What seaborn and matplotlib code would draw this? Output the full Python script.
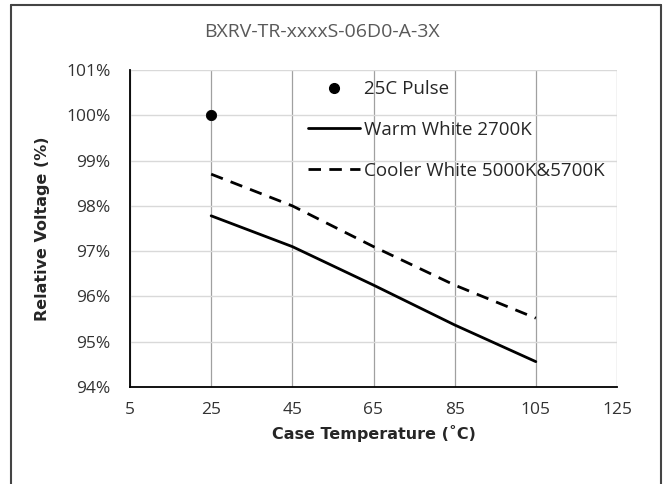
import numpy as np
import pandas as pd
import matplotlib.pyplot as plt
from matplotlib.lines import Line2D
from matplotlib.ticker import PercentFormatter
import seaborn as sns

# --- data ---
temps = [25, 45, 65, 85, 105]
warm_white = [97.78, 97.10, 96.25, 95.37, 94.56]
cool_white = [98.70, 98.00, 97.10, 96.25, 95.52]
pulse_temp = [25]
pulse_volt = [100.0]

x_ticks = [5, 25, 45, 65, 85, 105, 125]
y_ticks = [94, 95, 96, 97, 98, 99, 100, 101]

sns.set_style("white")
plt.rcParams['font.family'] = ['Open Sans', 'DejaVu Sans']

fig = plt.figure(figsize=(6.67, 4.84), dpi=100)
ax = fig.add_axes([130 / 667, 1 - 387 / 484, 487 / 667, 317 / 484])

dash = (0, (4.5, 3))
df = pd.DataFrame({"T": temps, "warm": warm_white, "cool": cool_white})
sns.lineplot(data=df, x="T", y="warm", ax=ax, color="black", lw=2)
sns.lineplot(data=df, x="T", y="cool", ax=ax, color="black", lw=2, linestyle=dash)
sns.scatterplot(x=pulse_temp, y=pulse_volt, ax=ax, color="black", s=55,
                edgecolor="black", zorder=5)

ax.set_xlim(5, 125)
ax.set_ylim(94, 101)
ax.set_xticks(x_ticks)
ax.set_yticks(y_ticks)
ax.yaxis.set_major_formatter(PercentFormatter(decimals=0))
ax.tick_params(axis="x", labelsize=12.5, length=0, pad=11, colors="#333333")
ax.tick_params(axis="y", labelsize=12.5, length=0, pad=14, colors="#333333")

# grid: light horizontal lines, darker vertical lines
ax.grid(axis="y", color="#d9d9d9", lw=1)
ax.grid(axis="x", color="#a0a0a0", lw=0.9)
ax.set_axisbelow(True)
for s in ["top", "right"]:
    ax.spines[s].set_visible(False)
for s in ["left", "bottom"]:
    ax.spines[s].set_color("black")
    ax.spines[s].set_linewidth(1.3)

ax.set_xlabel("Case Temperature (˚C)", fontsize=11.5, fontweight="bold",
              family=['DejaVu Sans'], labelpad=5)
ax.set_ylabel("Relative Voltage (%)", fontsize=11.5, fontweight="bold",
              family=['DejaVu Sans'], labelpad=12)

fig.text(322 / 667, 1 - 32 / 484, "BXRV-TR-xxxxS-06D0-A-3X", ha="center", va="center",
         fontsize=14, color="#595959")

handles = [
    Line2D([], [], marker="o", color="black", ls="none", markersize=7),
    Line2D([], [], color="black", lw=2),
    Line2D([], [], color="black", lw=2, linestyle=dash),
]
labels = ["25C Pulse", "Warm White 2700K", "Cooler White 5000K&5700K"]
ax.legend(handles, labels, loc="upper left", bbox_to_anchor=(300 / 667, 1 - 73 / 484),
          bbox_transform=fig.transFigure, frameon=False, fontsize=13.5,
          handlelength=2.8, handletextpad=0.2, labelspacing=1.2, borderaxespad=0)

# outer chart border (no bottom edge visible in the reference)
bc = "#444444"
fig.add_artist(Line2D([11 / 667, 11 / 667], [0, 1 - 5 / 484], color=bc, lw=1.5))
fig.add_artist(Line2D([661 / 667, 661 / 667], [0, 1 - 5 / 484], color=bc, lw=1.5))
fig.add_artist(Line2D([11 / 667, 661 / 667], [1 - 5 / 484, 1 - 5 / 484], color=bc, lw=1.5))

fig.savefig("out.png", dpi=100)
